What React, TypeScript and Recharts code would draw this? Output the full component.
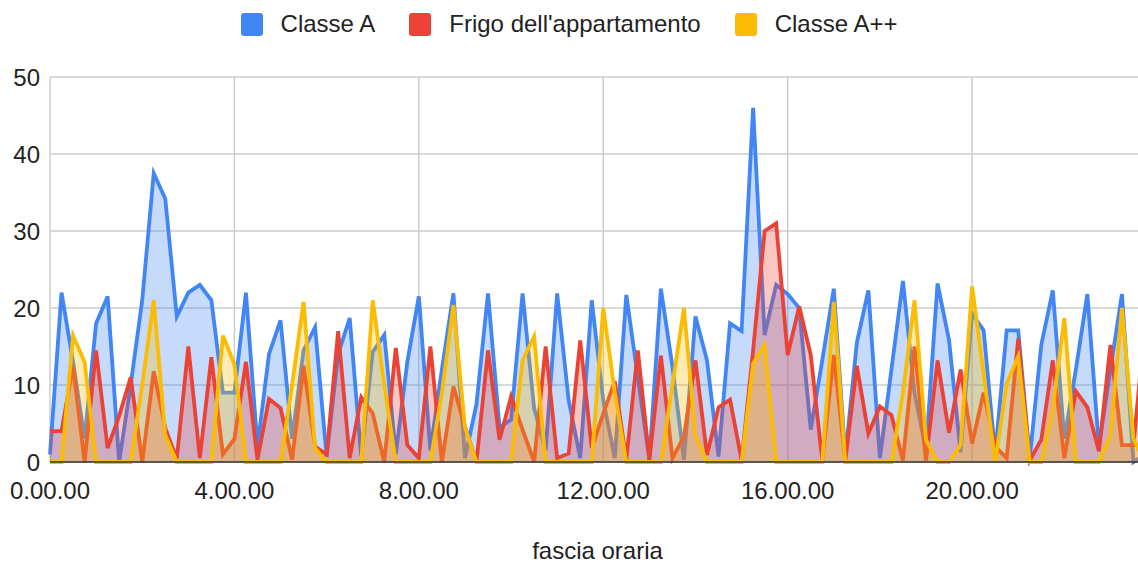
import { Area, AreaChart, CartesianGrid, Legend, XAxis, YAxis } from "recharts"

// 15-minute slots over the day
const times = Array.from({ length: 96 }, (_, i) => `${Math.floor(i / 4)}.${String((i % 4) * 15).padStart(2, "0")}.00`)

const classeA = [
  1, 22, 13, 3, 18, 21.5, 0, 10, 21, 37.5,
  34.2, 18.9, 22, 23, 21, 9, 9, 22, 2, 14,
  18.4, 3, 14.5, 17.5, 0.7, 14, 18.7, 0.7, 14.3, 16.5,
  1, 13, 21.5, 1.5, 12, 21.9, 0.5, 7.5, 21.9, 4.5,
  5.5, 21.9, 7, 1.5, 21.9, 8, 0.5, 21, 8, 0.5,
  21.7, 11, 0.3, 22.5, 12.4, 0.3, 18.9, 13.2, 0.7, 18,
  17, 46, 16.5, 23, 21.8, 20, 4.2, 13.2, 22.5, 0.7,
  15.5, 22.3, 0.5, 12, 23.5, 9, 1.5, 23.2, 15.8, 1.3,
  19.3, 17.1, 1, 17.1, 17.1, 0.5, 15.2, 22.3, 3, 12,
  21.8, 2, 12, 21.8, 0, 1,
]

const frigo = [
  4, 4, 12.5, 0, 14.5, 1.8, 6, 11, 0, 11.8,
  4.4, 0.4, 15, 0.5, 13.6, 1, 3, 13, 0.3, 8.2,
  7, 0.3, 12.5, 2, 1, 17, 0.5, 8.4, 6.3, 0,
  14.8, 2.2, 0.5, 15, 0, 9.8, 4.6, 0, 14.5, 2.9,
  8.5, 4.2, 0, 15, 0.5, 1.1, 15.8, 1.8, 6.3, 10.5,
  0.3, 14.5, 0.3, 13.8, 0.5, 3.3, 13.2, 0.9, 7.1, 8.1,
  0.2, 14.5, 30, 31, 13.9, 20.2, 13.9, 0.2, 13.9, 0.2,
  12.5, 3.7, 7.2, 6.1, 0.2, 15, 0.2, 13.2, 3.8, 12,
  2.4, 9, 2, 0.5, 16, 0.2, 2.9, 13.2, 0.5, 9.2,
  7.1, 1.4, 15.2, 2.2, 2.2, 18,
]

const classeApp = [
  0, 0, 16.4, 13, 0, 0, 0, 0, 10, 21,
  3.5, 0, 0, 0, 0, 16.4, 12.7, 0, 0, 0,
  0, 10, 20.8, 1.8, 0, 0, 0, 0, 21, 10,
  0, 0, 0, 0, 9, 20.4, 4.5, 0, 0, 0,
  0, 13.2, 16.3, 0, 0, 0, 0, 0, 20, 9,
  0, 0, 0, 0, 10, 20, 3.5, 0, 0, 0,
  0, 12.8, 15.2, 0, 0, 0, 0, 0, 20.8, 0,
  0, 0, 0, 0, 9, 21, 2.9, 0, 0, 2.2,
  22.8, 11.5, 0, 10.2, 13.7, 0, 0, 7, 18.7, 0,
  0, 0, 3.5, 20, 3, 0,
]

const xTicks = ["0.00.00", "4.00.00", "8.00.00", "12.00.00", "16.00.00", "20.00.00"]
const yTicks = [0, 10, 20, 30, 40, 50]

const series = [
  { key: "a", name: "Classe A", color: "#4285f4" },
  { key: "f", name: "Frigo dell'appartamento", color: "#ea4335" },
  { key: "app", name: "Classe A++", color: "#fbbc04" },
]

const data = times.map((t, i) => ({ t, a: classeA[i], f: frigo[i], app: classeApp[i] }))

const font = "'Liberation Sans', Arial, sans-serif"

function LegendRow() {
  return (
    <div style={{ height: 48, display: "flex", justifyContent: "center", alignItems: "center", fontFamily: font }}>
      {series.map((s, i) => (
        <div key={s.key} style={{ display: "flex", alignItems: "center", marginLeft: i === 0 ? 0 : 34 }}>
          <div style={{ width: 22, height: 23, borderRadius: 3, background: s.color, marginRight: 18 }} />
          <span style={{ fontSize: 24, color: "#222" }}>{s.name}</span>
        </div>
      ))}
    </div>
  )
}

export default function App() {
  return (
    <div style={{ position: "absolute", left: 0, top: 0, width: 1138, height: 563, overflow: "hidden", background: "#fff" }}>
      <AreaChart width={1160} height={563} data={data} margin={{ top: 29, right: 15, bottom: 0, left: 0 }}>
        <CartesianGrid stroke="#ccc" strokeWidth={1.5} />
        <XAxis
          dataKey="t"
          ticks={xTicks}
          interval={0}
          height={101}
          tickSize={0}
          tickMargin={20}
          axisLine={{ stroke: "#333", strokeWidth: 1.5 }}
          tick={{ fontSize: 24, fill: "#222", fontFamily: font }}
          label={{ value: "fascia oraria", position: "insideBottom", offset: 4, fontSize: 24, fill: "#222", fontFamily: font }}
        />
        <YAxis
          domain={[0, 50]}
          ticks={yTicks}
          width={50}
          tickSize={0}
          tickMargin={10}
          axisLine={false}
          tick={{ fontSize: 24, fill: "#222", fontFamily: font }}
        />
        <Legend verticalAlign="top" height={48} wrapperStyle={{ top: 0, left: 0, width: 1138 }} content={() => <LegendRow />} />
        {series.map((s) => (
          <Area
            key={s.key}
            type="linear"
            dataKey={s.key}
            name={s.name}
            stroke={s.color}
            strokeWidth={3.8}
            fill={s.color}
            fillOpacity={0.3}
            dot={false}
            activeDot={false}
            isAnimationActive={false}
          />
        ))}
      </AreaChart>
    </div>
  )
}
